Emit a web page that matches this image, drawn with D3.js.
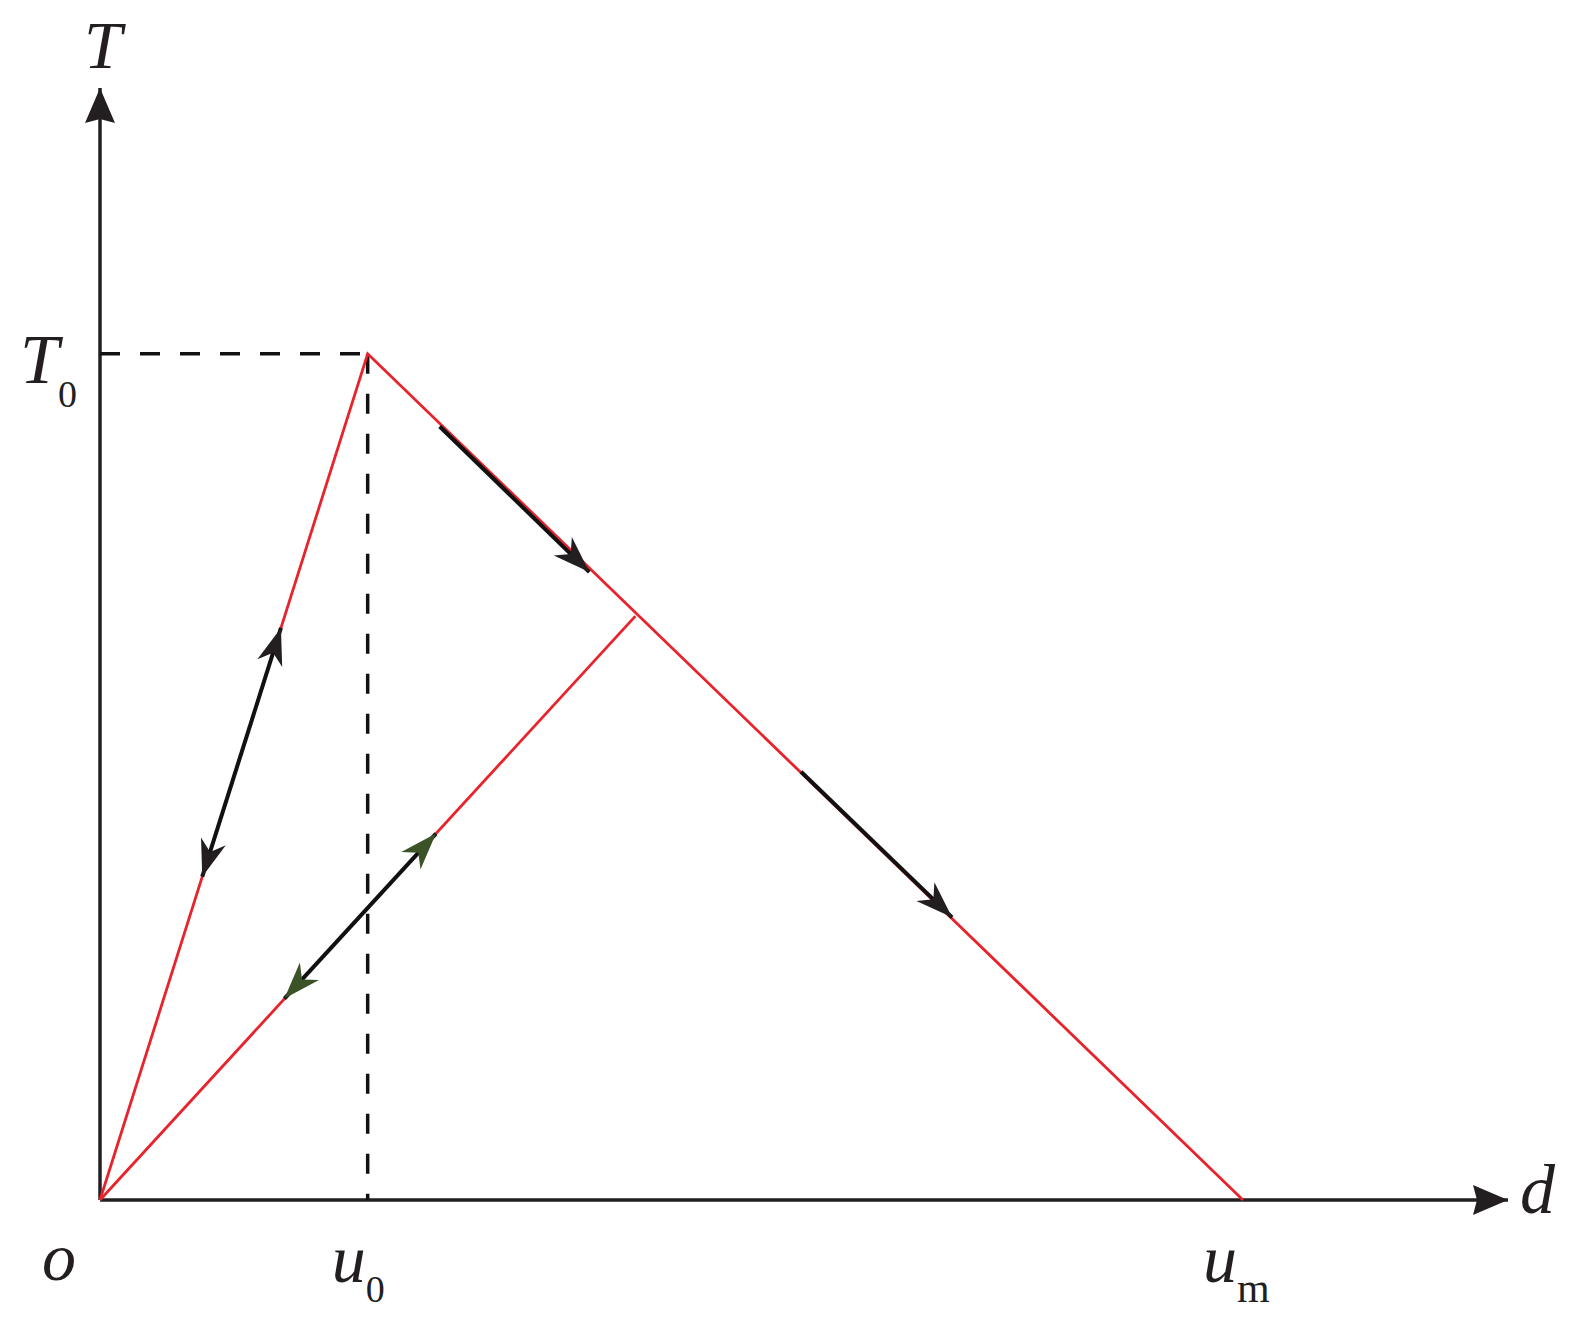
<!DOCTYPE html>
<html>
<head>
<meta charset="utf-8">
<script src="https://cdn.jsdelivr.net/npm/d3@7"></script>
<style>
  body { margin: 0; background: #fff; }
  text { font-family: "Liberation Serif", "Times New Roman", serif; fill: #231f20; }
</style>
</head>
<body>
<div id="chart"></div>
<script>
// schematic values (u0 = 1, T0 = 1)
var u0 = 1, T0 = 1, um = 4.27;
var dMax = 5.26, TMax = 1.314;
var envelope = [[0, 0], [u0, T0], [um, 0]];   // loading + softening
var unloading = [[0, 0], [2.0, 0.69]];         // unloading / reloading branch
// arrows on the branches, [d1,T1] -> [d2,T2]
var arrows = [
  {from: [0.382, 0.382], to: [0.676, 0.676], both: true, color: "black"},
  {from: [0.689, 0.238], to: [1.255, 0.433], both: true, color: "green"},
  {from: [1.269, 0.914], to: [1.828, 0.742], both: false, color: "black"},
  {from: [2.619, 0.506], to: [3.183, 0.334], both: false, color: "black"}
];

var width = 1573, height = 1317;
var svg = d3.select("#chart").append("svg")
  .attr("width", width).attr("height", height);

var x = d3.scaleLinear().domain([0, dMax]).range([100, 1508]);
var y = d3.scaleLinear().domain([0, TMax]).range([1200, 88]);

var defs = svg.append("defs");
defs.append("marker").attr("id", "axisArrow")
  .attr("markerUnits", "userSpaceOnUse")
  .attr("viewBox", "-36 -16 37 32")
  .attr("refX", 0).attr("refY", 0)
  .attr("markerWidth", 37).attr("markerHeight", 32)
  .attr("orient", "auto")
  .append("path").attr("d", "M0,0 L-35,-15 L-31,0 L-35,15 Z").attr("fill", "#231f20");

var headColors = {black: "#231f20", green: "#3b5326"};
Object.keys(headColors).forEach(function(k) {
  defs.append("marker").attr("id", "head-" + k)
    .attr("markerUnits", "userSpaceOnUse")
    .attr("viewBox", "-38 -14 39 28")
    .attr("refX", 0).attr("refY", 0)
    .attr("markerWidth", 39).attr("markerHeight", 28)
    .attr("orient", "auto-start-reverse")
    .append("path").attr("d", "M0,0 L-37,-13 L-26,0 L-37,13 Z").attr("fill", headColors[k]);
});

// axes
svg.append("line")
  .attr("x1", x(0)).attr("y1", y(0)).attr("x2", x(0)).attr("y2", y(TMax))
  .attr("stroke", "#231f20").attr("stroke-width", 3.5)
  .attr("marker-end", "url(#axisArrow)");
svg.append("line")
  .attr("x1", x(0)).attr("y1", y(0)).attr("x2", x(dMax)).attr("y2", y(0))
  .attr("stroke", "#231f20").attr("stroke-width", 3.5)
  .attr("marker-end", "url(#axisArrow)");

// dashed guides
svg.append("path")
  .attr("d", "M" + x(0) + "," + y(T0) + "H" + x(u0) + "M" + x(u0) + "," + y(T0) + "V" + y(0))
  .attr("fill", "none").attr("stroke", "#111").attr("stroke-width", 3.5)
  .attr("stroke-dasharray", "20,20");

var line = d3.line().x(function(d) { return x(d[0]); }).y(function(d) { return y(d[1]); });

svg.append("path").datum(envelope).attr("d", line)
  .attr("fill", "none").attr("stroke", "#e8232b").attr("stroke-width", 2.8)
  .attr("stroke-linejoin", "miter");
svg.append("path").datum(unloading).attr("d", line)
  .attr("fill", "none").attr("stroke", "#e8232b").attr("stroke-width", 2.8);

svg.selectAll(".arrow").data(arrows).enter().append("line")
  .attr("class", "arrow")
  .attr("x1", function(d) { return x(d.from[0]); })
  .attr("y1", function(d) { return y(d.from[1]); })
  .attr("x2", function(d) { return x(d.to[0]); })
  .attr("y2", function(d) { return y(d.to[1]); })
  .attr("stroke", "#111").attr("stroke-width", 4)
  .attr("marker-end", function(d) { return "url(#head-" + d.color + ")"; })
  .attr("marker-start", function(d) { return d.both ? "url(#head-" + d.color + ")" : null; });

// labels
function label(px, py, main, sub, size, subSize, subDx, subDy) {
  svg.append("text").attr("x", px).attr("y", py)
    .attr("font-size", size).attr("font-style", "italic").text(main);
  if (sub) {
    svg.append("text").attr("x", px + subDx).attr("y", py + subDy)
      .attr("font-size", subSize).attr("fill", sub === "m" ? "#555" : "#231f20").text(sub);
  }
}
label(84, 68, "T", null, 68);
label(20, 383, "T", "0", 70, 38, 38, 24);
label(1520, 1213, "d", null, 70);
label(42, 1280, "o", null, 68);
label(x(u0) - 36, 1282, "u", "0", 68, 38, 34, 20);
label(x(um) - 40, 1282, "u", "m", 68, 42, 34, 20);
</script>
</body>
</html>
